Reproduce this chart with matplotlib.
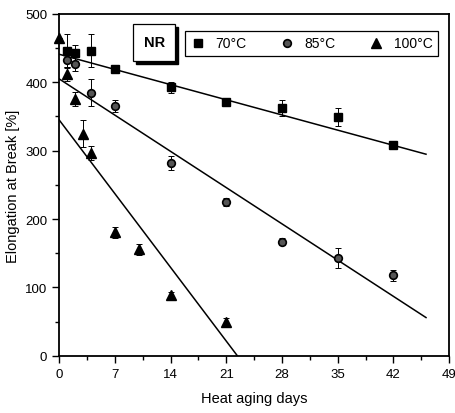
import matplotlib
matplotlib.use("Agg")
import matplotlib.pyplot as plt
from matplotlib.patches import Rectangle
from matplotlib.ticker import MultipleLocator
import numpy as np

plt.rcParams["font.family"] = ["Liberation Sans", "DejaVu Sans"]

# data
days_70 = [1, 2, 4, 7, 14, 21, 28, 35, 42]
elong_70 = [446, 443, 446, 420, 393, 371, 362, 349, 309]
err_70 = [25, 12, 24, 5, 8, 4, 12, 13, 4]

days_85 = [1, 2, 4, 7, 14, 21, 28, 35, 42]
elong_85 = [433, 427, 385, 365, 282, 225, 167, 143, 118]
err_85 = [10, 10, 20, 9, 10, 6, 5, 15, 8]

days_100 = [0, 1, 2, 3, 4, 7, 10, 14, 21]
elong_100 = [465, 412, 376, 325, 297, 181, 156, 89, 50]
err_100 = [0, 10, 10, 20, 10, 8, 8, 5, 5]

# linear fits (intercept, slope)
fit_70 = (441, -3.17)
fit_85 = (405, -7.57)
fit_100 = (345, -15.4)
fit_end = 46.1

labels = ["70°C", "85°C", "100°C"]

fig = plt.figure(figsize=(4.55, 4.14), dpi=100)
ax = fig.add_axes([0.13, 0.138, 0.857, 0.826])

xs = np.array([0, fit_end])
for b, m in [fit_70, fit_85, fit_100]:
    ax.plot(xs, b + m * xs, color="black", lw=1.1, zorder=2)

ekw = dict(fmt="none", ecolor="black", elinewidth=0.7, capsize=2.5, capthick=0.7, zorder=3)
ax.errorbar(days_70, elong_70, yerr=err_70, **ekw)
ax.errorbar(days_85, elong_85, yerr=err_85, **ekw)
ax.errorbar(days_100, elong_100, yerr=err_100, **ekw)

h1, = ax.plot(days_70, elong_70, "s", ms=5.5, color="black", ls="none", zorder=4)
h2, = ax.plot(days_85, elong_85, "o", ms=5.5, mfc="#555555", mec="black", mew=1.2,
              ls="none", zorder=4)
h3, = ax.plot(days_100, elong_100, "^", ms=7, color="black", ls="none", zorder=4,
              clip_on=False)

ax.set_xlim(0, 49)
ax.set_ylim(0, 500)
ax.xaxis.set_major_locator(MultipleLocator(7))
ax.xaxis.set_minor_locator(MultipleLocator(3.5))
ax.yaxis.set_major_locator(MultipleLocator(100))
ax.yaxis.set_minor_locator(MultipleLocator(50))
ax.tick_params(which="both", direction="out", top=False, right=False, labelsize=9.5)
ax.tick_params(which="major", length=5, width=1)
ax.tick_params(which="minor", length=3, width=1)
for s in ax.spines.values():
    s.set_linewidth(1.3)

ax.set_xlabel("Heat aging days", fontsize=10.5, labelpad=8)
ax.set_ylabel("Elongation at Break [%]", fontsize=10.5, labelpad=4)

leg = ax.legend([h1, h2, h3], labels, ncol=3, mode="expand", loc="center",
                bbox_to_anchor=(0.323, 0.865, 0.649, 0.097), borderaxespad=0,
                fancybox=False, edgecolor="black", framealpha=1, fontsize=10,
                handlelength=1.0, handletextpad=0.8, columnspacing=0.8)
leg.get_frame().set_linewidth(0.9)

# NR label box with shadow
ax.add_patch(Rectangle((0.198, 0.853), 0.107, 0.108, transform=ax.transAxes,
                       facecolor="black", edgecolor="black", zorder=5))
ax.add_patch(Rectangle((0.190, 0.863), 0.107, 0.108, transform=ax.transAxes,
                       facecolor="white", edgecolor="black", lw=0.9, zorder=6))
ax.text(0.2435, 0.917, "NR", transform=ax.transAxes, ha="center", va="center",
        fontsize=10.5, fontweight="bold", zorder=7)

plt.savefig("out.png", dpi=100)
